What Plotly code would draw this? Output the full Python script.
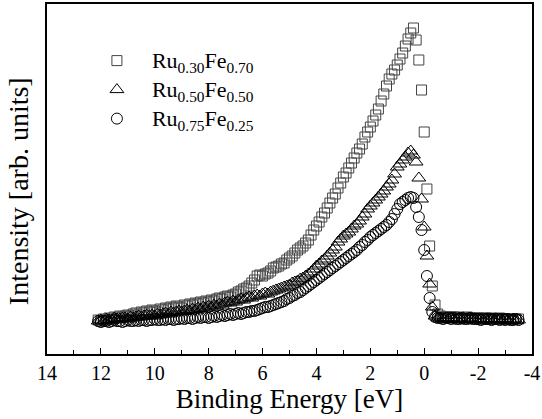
import plotly.graph_objects as go

# Binding energy grid: starts at 12.1 eV, 0.1 eV steps
E_START = 12.1
E_STEP = 0.1

# Ru0.30Fe0.70 (squares), intensity in arb. units
ru30 = [34, 33, 35, 34, 36, 35, 37, 36, 38, 37,
        38, 39, 38, 40, 41, 39, 42, 41, 43, 42,
        44, 43, 42, 45, 44, 46, 45, 47, 46, 48,
        47, 46, 49, 48, 50, 49, 51, 50, 52, 51,
        53, 52, 54, 53, 55, 56, 55, 57, 58, 57,
        59, 60, 62, 63, 65, 66, 68, 71, 74, 78,
        79, 78, 80, 81, 83, 86, 87, 88, 90, 91,
        94, 96, 98, 101, 104, 106, 108, 111, 114, 119,
        124, 128, 132, 137, 141, 146, 151, 156, 160, 166,
        171, 177, 181, 186, 191, 196, 201, 205, 210, 217,
        222, 227, 233, 239, 245, 253, 260, 268, 275, 280,
        284, 289, 295, 301, 308, 315, 321, 326, 314, 294,
        264, 222, 165, 108, 68, 49, 40, 38, 37, 37,
        37, 37, 37, 36, 37, 36, 36, 37, 36, 36,
        36, 36, 35, 36, 36, 35, 36, 35, 35, 36,
        35, 35, 35, 35, 35, 35, 35]

# Ru0.50Fe0.50 (triangles)
ru50 = [33, 34, 33, 35, 34, 34, 36, 35, 35, 36,
        36, 35, 37, 36, 37, 38, 37, 38, 39, 38,
        39, 38, 40, 39, 40, 41, 40, 42, 41, 42,
        43, 42, 43, 44, 43, 45, 44, 46, 45, 47,
        46, 48, 47, 49, 48, 50, 49, 51, 52, 51,
        53, 52, 54, 55, 54, 56, 57, 56, 58, 59,
        58, 60, 61, 60, 62, 63, 64, 65, 66, 67,
        68, 69, 71, 72, 73, 75, 76, 78, 80, 82,
        85, 88, 90, 93, 95, 98, 101, 104, 107, 112,
        115, 118, 120, 122, 125, 128, 130, 133, 137, 140,
        145, 148, 151, 154, 157, 160, 163, 167, 170, 174,
        180, 187, 190, 194, 197, 201, 203, 199, 192, 176,
        155, 127, 98, 70, 47, 38, 36, 36, 35, 36,
        35, 36, 35, 35, 36, 35, 35, 35, 36, 35,
        35, 35, 35, 34, 35, 35, 35, 34, 35, 35,
        34, 35, 34, 34, 35, 34, 34]

# Ru0.75Fe0.25 (circles)
ru75 = [33, 32, 33, 33, 32, 33, 34, 33, 33, 32,
        33, 34, 33, 33, 34, 33, 34, 34, 33, 34,
        34, 35, 34, 34, 35, 34, 35, 35, 34, 35,
        35, 36, 35, 36, 36, 35, 36, 37, 36, 37,
        37, 36, 37, 38, 37, 38, 39, 38, 39, 40,
        39, 40, 41, 40, 41, 42, 42, 43, 43, 44,
        45, 46, 47, 47, 48, 49, 50, 51, 52, 53,
        55, 56, 58, 59, 61, 62, 64, 66, 68, 70,
        72, 74, 76, 78, 80, 82, 84, 86, 88, 90,
        92, 94, 96, 98, 100, 102, 104, 107, 109, 112,
        114, 117, 119, 121, 123, 125, 127, 129, 132, 135,
        140, 145, 150, 152, 154, 156, 157, 156, 147, 137,
        124, 104, 78, 56, 42, 37, 36, 36, 35, 36,
        36, 35, 36, 35, 35, 36, 35, 35, 36, 35,
        35, 35, 34, 35, 35, 35, 34, 35, 35, 34,
        35, 34, 35, 34, 34, 35, 34]

x_tickvals = [14, 12, 10, 8, 6, 4, 2, 0, -2, -4]
x_ticktext = ["14", "12", "10", "8", "6", "4", "2", "0", "-2", "-4"]

names = ['<span style="font-size:22px">Ru<sub>0.30</sub>Fe<sub>0.70</sub></span>',
         '<span style="font-size:22px">Ru<sub>0.50</sub>Fe<sub>0.50</sub></span>',
         '<span style="font-size:22px">Ru<sub>0.75</sub>Fe<sub>0.25</sub></span>']


def energies(n):
    return [round(E_START - E_STEP * i, 2) for i in range(n)]


FONT = "Liberation Serif, Times New Roman, serif"

fig = go.Figure()
series = [
    (ru30, names[0], "square-open", 10, "#444444"),
    (ru50, names[1], "triangle-up-open", 12, "#000000"),
    (ru75, names[2], "circle-open", 11, "#000000"),
]
for vals, nm, sym, sz, col in series:
    fig.add_trace(go.Scatter(
        x=energies(len(vals)), y=vals, mode="markers", name=nm,
        marker=dict(symbol=sym, size=sz, color=col, line=dict(width=1, color=col)),
    ))

fig.update_layout(
    width=542, height=419,
    margin=dict(l=47, r=10, t=4, b=65),
    paper_bgcolor="white", plot_bgcolor="white",
    font=dict(family=FONT, size=20, color="black"),
    hovermode=False,
    showlegend=True,
    legend=dict(x=0.072, y=0.894, xanchor="left", yanchor="top",
                bgcolor="rgba(0,0,0,0)", itemwidth=60,
                font=dict(family=FONT, size=20, color="black")),
    xaxis=dict(
        range=[14, -4], tickvals=x_tickvals, ticktext=x_ticktext,
        ticks="inside", ticklen=6, tickwidth=1, tickcolor="black",
        minor=dict(ticks="inside", ticklen=4, dtick=1, tick0=0, tickcolor="black"),
        showline=True, linecolor="black", linewidth=1.5, mirror=True,
        showgrid=False, zeroline=False, automargin=False,
        ticklabeloverflow="allow", ticklabelstandoff=0,
        tickfont=dict(family=FONT, size=20, color="black"),
        title=dict(text="Binding Energy [eV]", font=dict(family=FONT, size=27, color="black"), standoff=4),
    ),
    yaxis=dict(
        range=[0, 350], showticklabels=False, ticks="",
        showline=True, linecolor="black", linewidth=1.5, mirror=True,
        showgrid=False, zeroline=False, automargin=False,
    ),
    annotations=[dict(
        text="Intensity [arb. units]", textangle=-90, showarrow=False,
        xref="paper", yref="paper", x=-0.06, y=0.465,
        xanchor="center", yanchor="middle",
        font=dict(family=FONT, size=28, color="black"),
    )],
)

fig.write_html("out.html", config={"displayModeBar": False},
               post_script="document.body.style.margin='0px';")
